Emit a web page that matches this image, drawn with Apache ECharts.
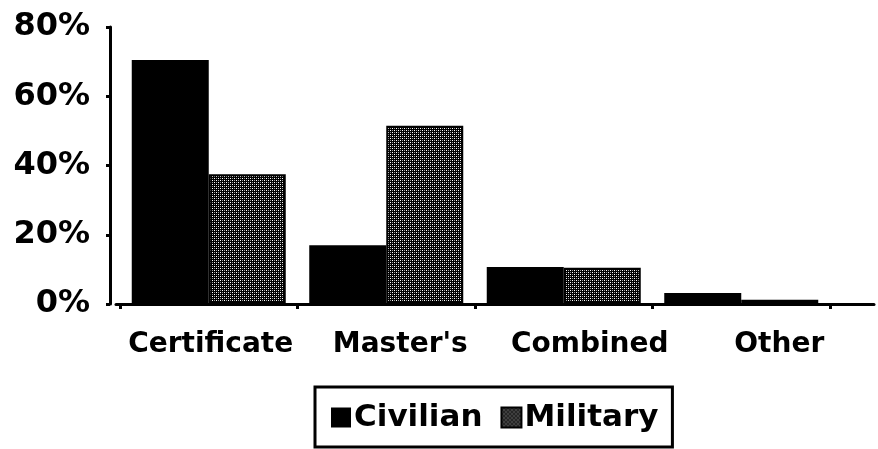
<!DOCTYPE html>
<html>
<head>
<meta charset="utf-8">
<script src="https://cdn.jsdelivr.net/npm/echarts@6/dist/echarts.min.js"></script>
<style>html,body{margin:0;padding:0;background:#fff;}#c{width:878px;height:449px;}</style>
</head>
<body>
<div id="c"></div>
<script>
const categories = ["Certificate", "Master's", "Combined", "Other"];
const civilian = [70.5, 17, 10.7, 3.2];
const military = [37.5, 51.5, 10.5, 1.2];
const yTicks = [0, 20, 40, 60, 80];

const FONT = 'DejaVu Sans';

// dotted texture for the Military series
const pc = document.createElement('canvas');
pc.width = 4; pc.height = 4;
const g = pc.getContext('2d');
g.fillStyle = '#000'; g.fillRect(0, 0, 4, 4);
g.fillStyle = '#fff'; g.fillRect(0, 0, 1, 1); g.fillRect(2, 2, 1, 1);
g.fillStyle = '#9a9a9a'; g.fillRect(2, 0, 1, 1); g.fillRect(0, 2, 1, 1);
const pattern = { image: pc, repeat: 'repeat' };

const chart = echarts.init(document.getElementById('c'), null, { renderer: 'canvas' });
chart.setOption({
  animation: false,
  backgroundColor: '#fff',
  textStyle: { fontFamily: FONT, fontWeight: 'bold', color: '#000' },
  grid: [
    { left: 120, width: 710, top: 27, bottom: 145 },
    { left: 116, right: 4, top: 27, bottom: 145 }
  ],
  legend: {
    data: ['Civilian', 'Military'],
    left: 315, top: 387,
    padding: [15, 14, 14, 16],
    borderColor: '#000', borderWidth: 3, borderRadius: 0,
    itemWidth: 20, itemHeight: 20, itemGap: 18,
    icon: 'rect',
    textStyle: { fontFamily: FONT, fontWeight: 'bold', fontSize: 31, color: '#000', padding: [0, 0, 0, -2] }
  },
  xAxis: [
    {
      type: 'category', gridIndex: 0, data: categories,
      axisLine: { show: false },
      axisTick: { show: true, length: 5, lineStyle: { color: '#000', width: 3 } },
      axisLabel: { show: false }
    },
    {
      type: 'category', gridIndex: 1, data: categories,
      axisLine: { show: true, lineStyle: { color: '#000', width: 3 } },
      axisTick: { show: false },
      axisLabel: { show: true, interval: 0, margin: 27, fontFamily: FONT, fontWeight: 'bold', fontSize: 28, color: '#000' }
    }
  ],
  yAxis: [
    {
      type: 'value', gridIndex: 0, min: yTicks[0], max: yTicks[yTicks.length - 1], interval: 20,
      offset: 10,
      splitLine: { show: false },
      axisLine: { show: true, lineStyle: { color: '#000', width: 3 } },
      axisTick: { show: true, length: 4, lineStyle: { color: '#000', width: 3 } },
      axisLabel: { margin: 20, fontFamily: FONT, fontWeight: 'bold', fontSize: 32, color: '#000', formatter: '{value}%' }
    },
    {
      type: 'value', gridIndex: 1, min: 0, max: 80, show: false, splitLine: { show: false }
    }
  ],
  series: [
    {
      name: 'Civilian', type: 'bar', xAxisIndex: 0, yAxisIndex: 0,
      data: civilian, barWidth: 77, barGap: '0%',
      itemStyle: { color: '#000' }
    },
    {
      name: 'Military', type: 'bar', xAxisIndex: 0, yAxisIndex: 0,
      data: military, barWidth: 77, barGap: '0%',
      itemStyle: { color: pattern, borderColor: '#000', borderWidth: 2 }
    }
  ]
});
</script>
</body>
</html>
